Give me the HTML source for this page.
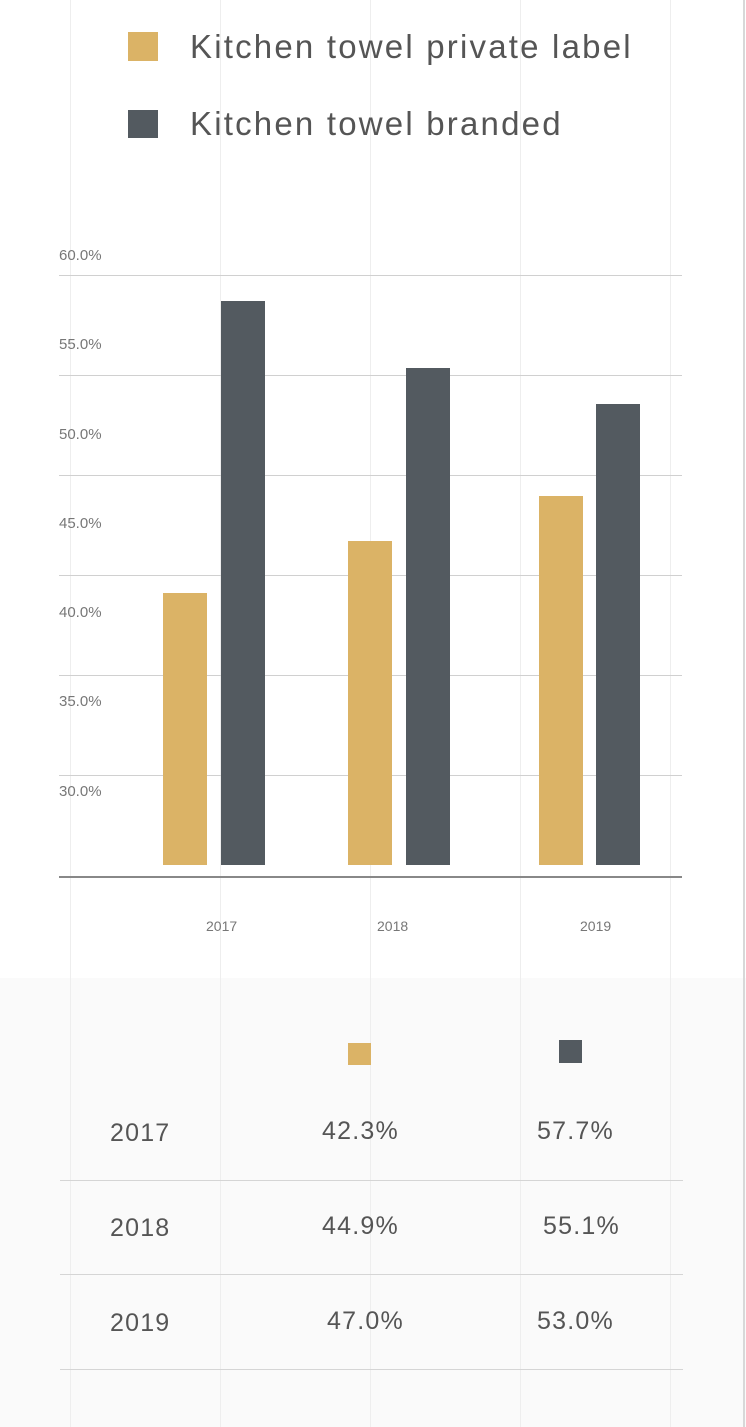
<!DOCTYPE html>
<html><head><style>
body{margin:0;width:746px;height:1427px;background:#fff;position:relative;overflow:hidden;font-family:"Liberation Sans",sans-serif;}
.a{position:absolute}
.v{position:absolute;top:0;height:1427px;width:1px;background:#eeeeee}
.g{position:absolute;left:59px;width:623px;height:1px;background:#d0d0d0}
.yl{position:absolute;left:59px;font-size:15px;color:#777}
.b{position:absolute}
.gd{background:#dbb366}.dk{background:#535a60}
.t{position:absolute;font-size:25px;color:#555;letter-spacing:1.2px}
.hl{position:absolute;left:60px;width:623px;height:1px;background:#d5d5d5}
.lg{position:absolute;left:190px;font-size:33px;color:#555;letter-spacing:2.2px}
</style></head><body>
<div class="a" style="left:0;top:978px;width:746px;height:449px;background:#fafafa"></div>
<div class="v" style="left:70px"></div><div class="v" style="left:220px"></div><div class="v" style="left:370px"></div><div class="v" style="left:520px"></div><div class="v" style="left:670px"></div>
<div class="a" style="left:743px;top:0;width:2px;height:1427px;background:#d8d8d8"></div>

<div class="b gd" style="left:128px;top:32px;width:30px;height:29px"></div>
<div class="lg" style="top:28px">Kitchen towel private label</div>
<div class="b dk" style="left:128px;top:110px;width:30px;height:28px"></div>
<div class="lg" style="top:105px">Kitchen towel branded</div>

<div class="yl" style="top:247px">60.0%</div>
<div class="yl" style="top:336px">55.0%</div>
<div class="yl" style="top:426px">50.0%</div>
<div class="yl" style="top:515px">45.0%</div>
<div class="yl" style="top:604px">40.0%</div>
<div class="yl" style="top:693px">35.0%</div>
<div class="yl" style="top:783px">30.0%</div>
<div class="g" style="top:275px"></div><div class="g" style="top:375px"></div><div class="g" style="top:475px"></div><div class="g" style="top:575px"></div><div class="g" style="top:675px"></div><div class="g" style="top:775px"></div>
<div class="a" style="left:59px;top:876px;width:623px;height:2px;background:#888"></div>

<div class="b gd" style="left:163px;top:593px;width:44px;height:272px"></div>
<div class="b dk" style="left:221px;top:301px;width:44px;height:564px"></div>
<div class="b gd" style="left:348px;top:541px;width:44px;height:324px"></div>
<div class="b dk" style="left:406px;top:368px;width:44px;height:497px"></div>
<div class="b gd" style="left:539px;top:496px;width:44px;height:369px"></div>
<div class="b dk" style="left:596px;top:404px;width:44px;height:461px"></div>

<div class="a" style="left:206px;top:918px;font-size:14px;color:#777">2017</div>
<div class="a" style="left:377px;top:918px;font-size:14px;color:#777">2018</div>
<div class="a" style="left:580px;top:918px;font-size:14px;color:#777">2019</div>

<div class="b gd" style="left:348px;top:1043px;width:23px;height:22px"></div>
<div class="b dk" style="left:559px;top:1040px;width:23px;height:23px"></div>

<div class="t" style="left:110px;top:1119px">2017</div>
<div class="t" style="left:322px;top:1117px">42.3%</div>
<div class="t" style="left:537px;top:1117px">57.7%</div>
<div class="hl" style="top:1180px"></div>
<div class="t" style="left:110px;top:1214px">2018</div>
<div class="t" style="left:322px;top:1212px">44.9%</div>
<div class="t" style="left:543px;top:1212px">55.1%</div>
<div class="hl" style="top:1274px"></div>
<div class="t" style="left:110px;top:1309px">2019</div>
<div class="t" style="left:327px;top:1307px">47.0%</div>
<div class="t" style="left:537px;top:1307px">53.0%</div>
<div class="hl" style="top:1369px"></div>
</body></html>
